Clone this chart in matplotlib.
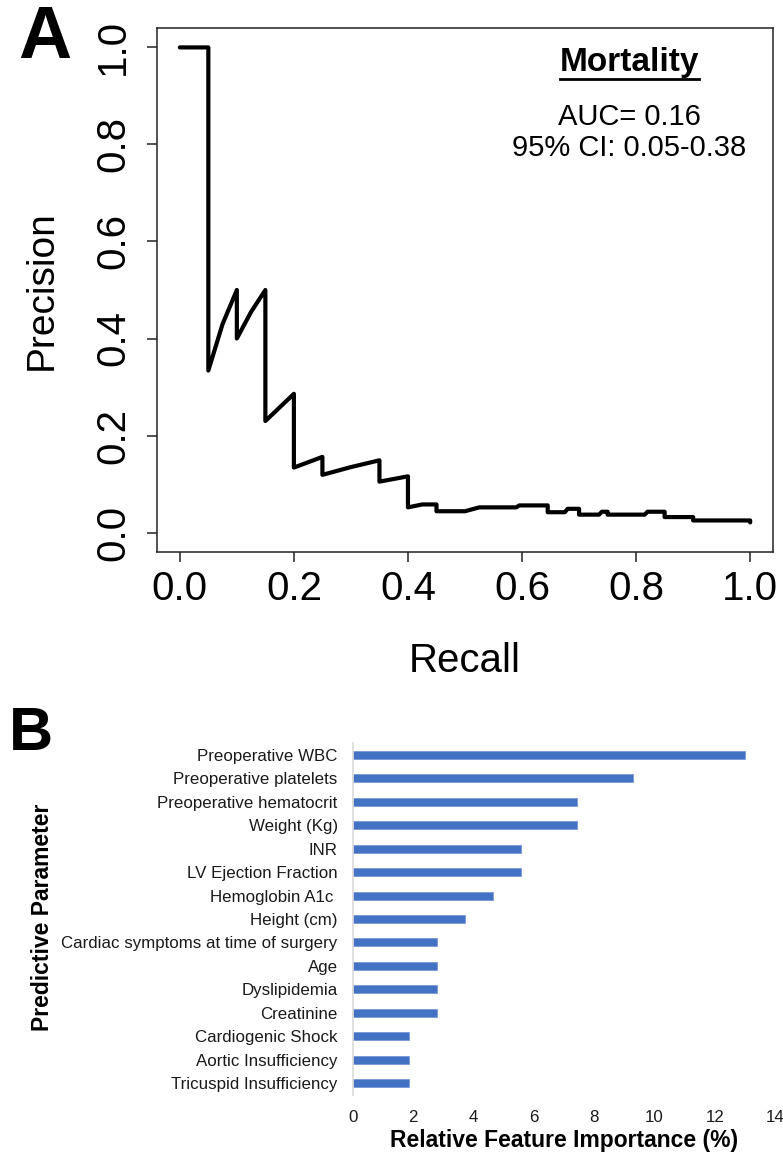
import matplotlib
matplotlib.use("Agg")
import matplotlib.pyplot as plt
from matplotlib.lines import Line2D

plt.rcParams['font.family'] = ['Liberation Sans', 'DejaVu Sans']

# Panel A: precision-recall curve (mortality)
recall = [0.00, 0.05, 0.05, 0.075, 0.10, 0.10, 0.125, 0.15, 0.15, 0.20, 0.20,
          0.25, 0.25, 0.30, 0.35, 0.35, 0.40, 0.40, 0.425, 0.45, 0.45, 0.50,
          0.525, 0.59, 0.595, 0.645, 0.645, 0.675, 0.68, 0.70, 0.70, 0.735,
          0.74, 0.75, 0.75, 0.815, 0.82, 0.85, 0.85, 0.90, 0.90, 1.00, 1.00]
precision = [1.00, 1.00, 0.334, 0.43, 0.50, 0.40, 0.455, 0.50, 0.23, 0.286, 0.134,
             0.156, 0.119, 0.135, 0.149, 0.105, 0.116, 0.052, 0.058, 0.058, 0.044, 0.044,
             0.052, 0.052, 0.056, 0.056, 0.042, 0.042, 0.049, 0.049, 0.037, 0.037,
             0.043, 0.043, 0.037, 0.037, 0.043, 0.043, 0.032, 0.032, 0.025, 0.025, 0.021]
auc_text = "AUC= 0.16"
ci_text = "95% CI: 0.05-0.38"
pr_ticks = [0.0, 0.2, 0.4, 0.6, 0.8, 1.0]

# Panel B: feature importance
features = ["Preoperative WBC", "Preoperative platelets", "Preoperative hematocrit",
            "Weight (Kg)", "INR", "LV Ejection Fraction", "Hemoglobin A1c ",
            "Height (cm)", "Cardiac symptoms at time of surgery", "Age",
            "Dyslipidemia", "Creatinine", "Cardiogenic Shock",
            "Aortic Insufficiency", "Tricuspid Insufficiency"]
importance = [13.02, 9.30, 7.44, 7.44, 5.58, 5.58, 4.65, 3.72,
              2.79, 2.79, 2.79, 2.79, 1.86, 1.86, 1.86]
imp_ticks = [0, 2, 4, 6, 8, 10, 12, 14]

W, H = 783, 1157
fig = plt.figure(figsize=(W / 100, H / 100), dpi=100)

# ---- panel A ----
axA = fig.add_axes([157 / W, 1 - 552 / H, 616 / W, 524 / H])
axA.plot(recall, precision, color='black', lw=3.0, solid_joinstyle='round',
         solid_capstyle='round')
axA.set_xlim(-0.04, 1.04)
axA.set_ylim(-0.04, 1.04)
axA.set_xticks(pr_ticks)
axA.set_yticks(pr_ticks)
axA.set_xticklabels([f"{t:.1f}" for t in pr_ticks])
axA.set_yticklabels([f"{t:.1f}" for t in pr_ticks])
for s in axA.spines.values():
    s.set_linewidth(1.1)
    s.set_color('#222222')
axA.tick_params(axis='both', direction='out', length=7, width=1.1,
                color='#222222', labelsize=29)
axA.tick_params(axis='x', pad=6)
axA.tick_params(axis='y', pad=11, labelrotation=90)
for lbl in axA.get_yticklabels():
    lbl.set_va('center')
axA.set_xlabel("Recall", fontsize=29, va='center')
axA.xaxis.set_label_coords(0.5, -0.208)
axA.set_ylabel("Precision", fontsize=28, va='center')
axA.yaxis.set_label_coords(-0.187, 0.5)

title = axA.text(0.788, 0.969, "Mortality", fontsize=24, fontweight='bold',
                 ha='center', va='center')
axA.text(0.788, 0.856, auc_text, fontsize=21, ha='center', va='center')
axA.text(0.788, 0.792, ci_text, fontsize=21, ha='center', va='center')

# underline for the title
fig.canvas.draw()
bb = title.get_window_extent().transformed(fig.transFigure.inverted())
fig.add_artist(Line2D([bb.x0, bb.x1], [bb.y0 - 0.001, bb.y0 - 0.001],
                      transform=fig.transFigure, color='black', lw=2))

# ---- panel B ----
axB = fig.add_axes([353 / W, 1 - 1095 / H, 422 / W, 352 / H])
ypos = list(range(len(features)))
axB.barh(ypos, importance, height=0.34, color='#4472C4', edgecolor='#6f90d0',
         linewidth=0.5)
axB.set_ylim(len(features) - 0.5, -0.5)
axB.set_xlim(0, 14)
axB.set_yticks(ypos)
axB.set_yticklabels(features, fontsize=12.2, color='#1a1a1a')
axB.set_xticks(imp_ticks)
axB.set_xticklabels([str(t) for t in imp_ticks], fontsize=12.2, color='#1a1a1a')
axB.tick_params(axis='both', length=0)
axB.tick_params(axis='y', pad=11)
axB.tick_params(axis='x', pad=11)
for side in ['top', 'right', 'bottom']:
    axB.spines[side].set_visible(False)
axB.spines['left'].set_color('#d9d9d9')
axB.spines['left'].set_linewidth(1.2)
axB.set_xlabel("Relative Feature Importance (%)", fontsize=16.5,
               fontweight='bold', va='center')
axB.xaxis.set_label_coords(0.5, -0.13)
axB.set_ylabel("Predictive Parameter", fontsize=16.5, fontweight='bold',
               va='center')
axB.yaxis.set_label_coords(-0.735, 0.506)

# panel letters
fig.text(45 / W, 1 - 38 / H, "A", fontsize=53, fontweight='bold',
         ha='center', va='center')
fig.text(31 / W, 1 - 735 / H, "B", fontsize=44, fontweight='bold',
         ha='center', va='center')

fig.savefig("out.png", dpi=100)
